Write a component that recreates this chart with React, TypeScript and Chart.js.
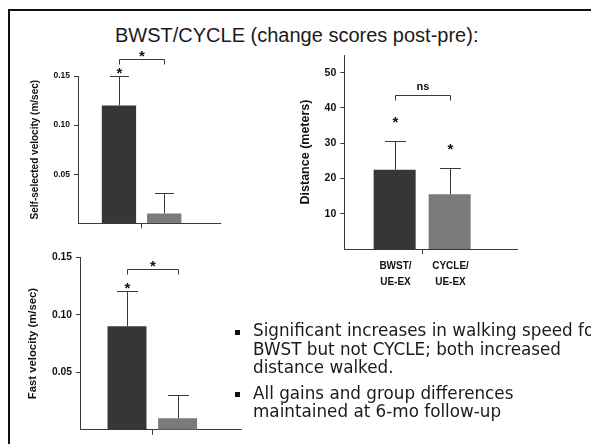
import React, { useEffect, useRef } from "react";
import { Chart, registerables } from "chart.js";

Chart.register(...registerables);

// ---------------- data ----------------
const CATEGORY = [""];
const GROUPS = ["BWST/UE-EX", "CYCLE/UE-EX"];

const SELF_VELOCITY = [0.12, 0.01];
const SELF_VELOCITY_ERR = [0.03, 0.02];
const SELF_VELOCITY_STARS = [true, false];
const SELF_VELOCITY_BRACKET = "*";

const DISTANCE = [22.5, 15.5];
const DISTANCE_ERR = [8.0, 7.3];
const DISTANCE_STARS = [true, true];
const DISTANCE_BRACKET = "ns";

const FAST_VELOCITY = [0.09, 0.01];
const FAST_VELOCITY_ERR = [0.03, 0.02];
const FAST_VELOCITY_STARS = [true, false];
const FAST_VELOCITY_BRACKET = "*";

const VELOCITY_TICKS = [0.05, 0.1, 0.15];
const DISTANCE_TICKS = [10, 20, 30, 40, 50];

const TITLE = "BWST/CYCLE (change scores post-pre):";
const BULLETS = [
  ["Significant increases in walking speed for", "BWST but not CYCLE; both increased", "distance walked."],
  ["All gains and group differences", "maintained at 6-mo follow-up"],
];

// ---------------- styles ----------------
const FONT = "'Liberation Sans', Arial, Helvetica, sans-serif";
const BAR_COLORS = ["#363636", "#7a7a7a"];
const LINE = "#3a3a3a";
const TEXT = "#111111";

interface Spec {
  box: [number, number, number, number];
  area: [number, number, number, number];
  values: number[];
  errors: number[];
  stars: boolean[];
  bracket: string;
  yMax: number;
  yTicks: number[];
  decimals: number;
  yTitle: string;
  tickSize: number;
  titleSize: number;
  titlePad: number;
  catPct: number;
  barPct: number;
  capPct: number;
  starGap: number;
  bracketGap: number;
  labelGap: number;
  axisExt: number;
  groupLabels: boolean;
}

const SPECS: Spec[] = [
  {
    box: [10, 40, 225, 200],
    area: [78, 76, 205.2, 223.3],
    values: SELF_VELOCITY,
    errors: SELF_VELOCITY_ERR,
    stars: SELF_VELOCITY_STARS,
    bracket: SELF_VELOCITY_BRACKET,
    yMax: 0.15,
    yTicks: VELOCITY_TICKS,
    decimals: 2,
    yTitle: "Self-selected velocity (m/sec)",
    tickSize: 8.5,
    titleSize: 10,
    titlePad: 19,
    catPct: 0.712,
    barPct: 0.757,
    capPct: 0.55,
    starGap: 7,
    bracketGap: 17,
    labelGap: 7,
    axisExt: 16,
    groupLabels: false,
  },
  {
    box: [290, 40, 240, 260],
    area: [344.3, 55, 500, 249],
    values: DISTANCE,
    errors: DISTANCE_ERR,
    stars: DISTANCE_STARS,
    bracket: DISTANCE_BRACKET,
    yMax: 55,
    yTicks: DISTANCE_TICKS,
    decimals: 0,
    yTitle: "Distance (meters)",
    tickSize: 10.5,
    titleSize: 12.5,
    titlePad: 8.5,
    catPct: 0.7065,
    barPct: 0.764,
    capPct: 0.5,
    starGap: 23,
    bracketGap: 46,
    labelGap: 8.5,
    axisExt: 18,
    groupLabels: true,
  },
  {
    box: [10, 240, 240, 200],
    area: [80, 257.3, 224.6, 430.7],
    values: FAST_VELOCITY,
    errors: FAST_VELOCITY_ERR,
    stars: FAST_VELOCITY_STARS,
    bracket: FAST_VELOCITY_BRACKET,
    yMax: 0.15,
    yTicks: VELOCITY_TICKS,
    decimals: 2,
    yTitle: "Fast velocity (m/sec)",
    tickSize: 10.3,
    titleSize: 11.3,
    titlePad: 16.3,
    catPct: 0.7,
    barPct: 0.77,
    capPct: 0.55,
    starGap: 7.4,
    bracketGap: 21.7,
    labelGap: 7.3,
    axisExt: 17,
    groupLabels: false,
  },
];

const px = (v: number) => Math.round(v - 0.5) + 0.5;

function drawStar(ctx: CanvasRenderingContext2D, x: number, cy: number, size: number) {
  ctx.font = `bold ${size}px ${FONT}`;
  ctx.textAlign = "center";
  ctx.textBaseline = "alphabetic";
  ctx.fillText("*", x, cy + size * 0.57);
}

const annotate = {
  id: "annotate",
  afterDatasetsDraw(chart: any, _args: any, opts: any) {
    const s: Spec = opts.spec;
    if (!s) return;
    const { ctx, chartArea, scales } = chart;
    const y = scales.y;
    ctx.save();
    ctx.strokeStyle = LINE;
    ctx.fillStyle = TEXT;
    ctx.lineWidth = 1;
    // x axis line continues a little past the plot
    const by = px(chartArea.bottom);
    ctx.beginPath();
    ctx.moveTo(chartArea.right - 1, by);
    ctx.lineTo(chartArea.right + s.axisExt, by);
    ctx.stroke();

    const tops: number[] = [];
    const xs: number[] = [];
    chart.data.datasets.forEach((_ds: any, i: number) => {
      const el = chart.getDatasetMeta(i).data[0];
      const x = Math.round(el.x) + 0.5;
      const v = s.values[i];
      const e = s.errors[i];
      const yTop = px(y.getPixelForValue(v + e));
      const yBar = y.getPixelForValue(v);
      const cap = (el.width * s.capPct) / 2;
      ctx.beginPath();
      ctx.moveTo(x, yBar);
      ctx.lineTo(x, yTop);
      ctx.moveTo(Math.round(x - cap), yTop);
      ctx.lineTo(Math.round(x + cap), yTop);
      ctx.stroke();
      tops.push(yTop);
      xs.push(x);
      if (s.stars[i]) drawStar(ctx, x, yTop - s.starGap, 15);
    });

    // significance bracket
    const bk = px(Math.min(...tops) - s.bracketGap);
    ctx.beginPath();
    ctx.moveTo(xs[0], bk + 5);
    ctx.lineTo(xs[0], bk);
    ctx.lineTo(xs[1], bk);
    ctx.lineTo(xs[1], bk + 5);
    ctx.stroke();
    const mid = (xs[0] + xs[1]) / 2;
    if (s.bracket === "*") {
      drawStar(ctx, mid, bk - s.labelGap, 15);
    } else {
      ctx.font = `bold 11px ${FONT}`;
      ctx.textAlign = "center";
      ctx.textBaseline = "middle";
      ctx.fillText(s.bracket, mid, bk - s.labelGap);
    }

    // group labels under the bars
    if (s.groupLabels) {
      ctx.font = `bold 10px ${FONT}`;
      ctx.textAlign = "center";
      ctx.textBaseline = "middle";
      GROUPS.forEach((g, i) => {
        const cut = g.indexOf("/") + 1;
        ctx.fillText(g.slice(0, cut), xs[i], chartArea.bottom + 17.7);
        ctx.fillText(g.slice(cut), xs[i], chartArea.bottom + 33.3);
      });
    }
    ctx.restore();
  },
};

function BarPanel({ spec }: { spec: Spec }) {
  const ref = useRef<HTMLCanvasElement>(null);
  useEffect(() => {
    const [bl, bt, bw, bh] = spec.box;
    const [al, at, ar, ab] = spec.area;
    const yWidth = al - bl;
    const xHeight = bt + bh - ab;
    const chart = new Chart(ref.current as HTMLCanvasElement, {
      type: "bar",
      data: {
        labels: CATEGORY,
        datasets: GROUPS.map((g, i) => ({
          label: g,
          data: [spec.values[i]],
          backgroundColor: BAR_COLORS[i],
          borderWidth: 0,
          categoryPercentage: spec.catPct,
          barPercentage: spec.barPct,
        })),
      },
      options: {
        responsive: false,
        animation: false,
        devicePixelRatio: 1,
        layout: { padding: { top: at - bt, right: bl + bw - ar, left: 0, bottom: 0 } },
        plugins: {
          legend: { display: false },
          tooltip: { enabled: false },
          annotate: { spec },
        } as any,
        scales: {
          x: {
            type: "category",
            offset: true,
            grid: {
              display: true,
              offset: false,
              drawOnChartArea: false,
              drawTicks: true,
              tickLength: 5,
              color: LINE,
            },
            border: { display: true, color: LINE, width: 1 },
            ticks: { display: false },
            afterFit: (sc: any) => {
              sc.height = xHeight;
            },
          },
          y: {
            type: "linear",
            min: 0,
            max: spec.yMax,
            afterBuildTicks: (sc: any) => {
              sc.ticks = spec.yTicks.map((v) => ({ value: v }));
            },
            grid: {
              display: true,
              drawOnChartArea: false,
              drawTicks: true,
              tickLength: 4,
              color: LINE,
            },
            border: { display: true, color: LINE, width: 1 },
            ticks: {
              padding: 4,
              color: TEXT,
              font: { family: FONT, size: spec.tickSize, weight: "bold" },
              callback: (v: any) => Number(v).toFixed(spec.decimals),
            },
            title: {
              display: true,
              text: spec.yTitle,
              color: TEXT,
              font: { family: FONT, size: spec.titleSize, weight: "bold" },
              padding: { top: spec.titlePad, bottom: 0 },
            },
            afterFit: (sc: any) => {
              sc.width = yWidth;
            },
          },
        },
      } as any,
      plugins: [annotate],
    });
    return () => chart.destroy();
  }, [spec]);
  const [bl, bt, bw, bh] = spec.box;
  return (
    <canvas
      ref={ref}
      width={bw}
      height={bh}
      style={{ position: "absolute", left: bl, top: bt, width: bw, height: bh }}
    />
  );
}

export default function App() {
  const textFont = "'DejaVu Sans', Verdana, sans-serif";
  const lineH = 18.6;
  const blockTops = [321, 383.6];
  return (
    <div
      style={{
        position: "absolute",
        left: 0,
        top: 0,
        width: 591,
        height: 444,
        overflow: "hidden",
        background: "#ffffff",
      }}
    >
      <div
        style={{
          position: "absolute",
          left: 8,
          top: 9,
          width: 700,
          height: 500,
          borderTop: "2px solid #111",
          borderLeft: "2px solid #111",
        }}
      />
      <div
        style={{
          position: "absolute",
          left: 115,
          top: 23,
          font: `20px ${FONT}`,
          lineHeight: "24px",
          color: "#1a1a1a",
          whiteSpace: "nowrap",
        }}
      >
        {TITLE}
      </div>
      {SPECS.map((s, i) => (
        <BarPanel key={i} spec={s} />
      ))}
      {BULLETS.map((lines, bi) => (
        <div key={bi}>
          <div
            style={{
              position: "absolute",
              left: 235,
              top: blockTops[bi] + 8.5,
              width: 5,
              height: 5,
              background: "#111",
            }}
          />
          <div
            style={{
              position: "absolute",
              left: 253,
              top: blockTops[bi],
              font: `16.8px ${textFont}`,
              lineHeight: `${lineH}px`,
              color: "#1a1a1a",
              whiteSpace: "nowrap",
            }}
          >
            {lines.map((l, li) => (
              <div key={li}>{l}</div>
            ))}
          </div>
        </div>
      ))}
    </div>
  );
}
